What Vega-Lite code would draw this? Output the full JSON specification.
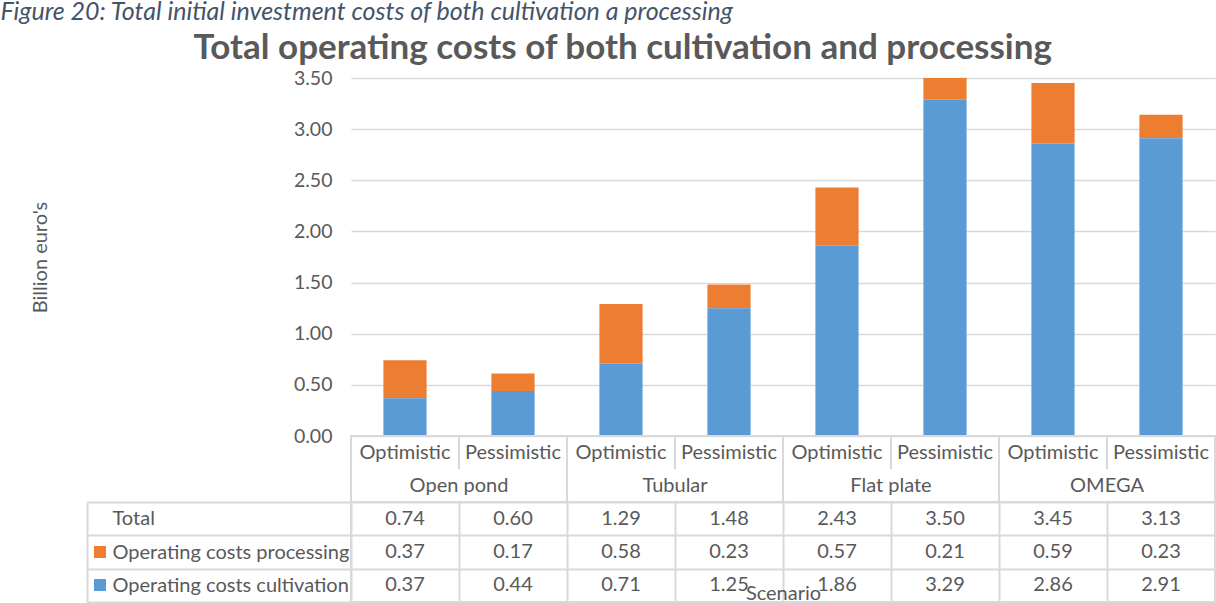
{
  "$schema": "https://vega.github.io/schema/vega-lite/v6.json",
  "padding": 0,
  "background": "white",
  "spacing": 0,
  "bounds": "flush",
  "title": {
    "text": "Figure 20: Total initial investment costs of both cultivation a processing",
    "anchor": "start",
    "frame": "bounds",
    "fontSize": 25,
    "fontStyle": "italic",
    "fontWeight": "normal",
    "color": "#44546A",
    "dx": -30,
    "dy": -10,
    "offset": -4
  },
  "config": {
    "font": "Lato",
    "view": {"stroke": null}
  },
  "resolve": {"scale": {"x": "independent", "y": "independent", "color": "shared"}},
  "datasets": {
    "costs": [
      {"col": "Open pond / Optimistic", "system": "Open pond", "scenario": "Optimistic", "row": "Total", "value": 0.74},
      {"col": "Open pond / Optimistic", "system": "Open pond", "scenario": "Optimistic", "row": "Operating costs processing", "value": 0.37},
      {"col": "Open pond / Optimistic", "system": "Open pond", "scenario": "Optimistic", "row": "Operating costs cultivation", "value": 0.37},
      {"col": "Open pond / Pessimistic", "system": "Open pond", "scenario": "Pessimistic", "row": "Total", "value": 0.60},
      {"col": "Open pond / Pessimistic", "system": "Open pond", "scenario": "Pessimistic", "row": "Operating costs processing", "value": 0.17},
      {"col": "Open pond / Pessimistic", "system": "Open pond", "scenario": "Pessimistic", "row": "Operating costs cultivation", "value": 0.44},
      {"col": "Tubular / Optimistic", "system": "Tubular", "scenario": "Optimistic", "row": "Total", "value": 1.29},
      {"col": "Tubular / Optimistic", "system": "Tubular", "scenario": "Optimistic", "row": "Operating costs processing", "value": 0.58},
      {"col": "Tubular / Optimistic", "system": "Tubular", "scenario": "Optimistic", "row": "Operating costs cultivation", "value": 0.71},
      {"col": "Tubular / Pessimistic", "system": "Tubular", "scenario": "Pessimistic", "row": "Total", "value": 1.48},
      {"col": "Tubular / Pessimistic", "system": "Tubular", "scenario": "Pessimistic", "row": "Operating costs processing", "value": 0.23},
      {"col": "Tubular / Pessimistic", "system": "Tubular", "scenario": "Pessimistic", "row": "Operating costs cultivation", "value": 1.25},
      {"col": "Flat plate / Optimistic", "system": "Flat plate", "scenario": "Optimistic", "row": "Total", "value": 2.43},
      {"col": "Flat plate / Optimistic", "system": "Flat plate", "scenario": "Optimistic", "row": "Operating costs processing", "value": 0.57},
      {"col": "Flat plate / Optimistic", "system": "Flat plate", "scenario": "Optimistic", "row": "Operating costs cultivation", "value": 1.86},
      {"col": "Flat plate / Pessimistic", "system": "Flat plate", "scenario": "Pessimistic", "row": "Total", "value": 3.50},
      {"col": "Flat plate / Pessimistic", "system": "Flat plate", "scenario": "Pessimistic", "row": "Operating costs processing", "value": 0.21},
      {"col": "Flat plate / Pessimistic", "system": "Flat plate", "scenario": "Pessimistic", "row": "Operating costs cultivation", "value": 3.29},
      {"col": "OMEGA / Optimistic", "system": "OMEGA", "scenario": "Optimistic", "row": "Total", "value": 3.45},
      {"col": "OMEGA / Optimistic", "system": "OMEGA", "scenario": "Optimistic", "row": "Operating costs processing", "value": 0.59},
      {"col": "OMEGA / Optimistic", "system": "OMEGA", "scenario": "Optimistic", "row": "Operating costs cultivation", "value": 2.86},
      {"col": "OMEGA / Pessimistic", "system": "OMEGA", "scenario": "Pessimistic", "row": "Total", "value": 3.13},
      {"col": "OMEGA / Pessimistic", "system": "OMEGA", "scenario": "Pessimistic", "row": "Operating costs processing", "value": 0.23},
      {"col": "OMEGA / Pessimistic", "system": "OMEGA", "scenario": "Pessimistic", "row": "Operating costs cultivation", "value": 2.91}
    ]
  },
  "vconcat": [
    {
      "title": {
        "text": "Total operating costs of both cultivation and processing",
        "anchor": "middle",
        "frame": "bounds",
        "fontSize": 35,
        "fontWeight": "bold",
        "color": "#595959",
        "offset": 2
      },
      "width": 864,
      "height": 358,
      "data": {"name": "costs"},
      "transform": [{"filter": "datum.row !== 'Total'"}],
      "mark": {"type": "bar"},
      "encoding": {
        "x": {
          "field": "col", "type": "nominal", "sort": null,
          "scale": {"paddingInner": 0.6, "paddingOuter": 0.3},
          "axis": null
        },
        "y": {
          "field": "value", "type": "quantitative", "stack": "zero",
          "scale": {"domain": [0, 3.5], "nice": false},
          "axis": {
            "values": [0, 0.5, 1, 1.5, 2, 2.5, 3, 3.5],
            "format": ".2f",
            "title": "Billion euro's",
            "grid": true, "gridColor": "#D9D9D9", "gridWidth": 1.5,
            "domain": false, "ticks": false,
            "labelPadding": 19, "labelFontSize": 19.5, "labelColor": "#595959",
            "titleFontSize": 20, "titleFontWeight": "normal", "titleColor": "#595959",
            "titlePadding": 243
          }
        },
        "color": {
          "field": "row", "type": "nominal",
          "scale": {
            "domain": ["Operating costs processing", "Operating costs cultivation"],
            "range": ["#ED7D31", "#5B9BD5"]
          },
          "legend": {
            "orient": "none", "legendX": -257, "legendY": 468,
            "title": null, "symbolType": "square", "symbolSize": 144,
            "symbolStrokeWidth": 0, "labelExpr": "''", "labelFontSize": 1,
            "rowPadding": 21, "padding": 0
          }
        },
        "order": {"field": "row", "type": "nominal", "sort": "ascending"}
      }
    },
    {
      "width": 864,
      "height": 66,
      "view": {"stroke": "#D9D9D9", "strokeWidth": 2},
      "data": {"name": "costs"},
      "transform": [{"filter": "datum.row === 'Total'"}],
      "layer": [
        {
          "mark": {"type": "text", "fontSize": 20, "color": "#595959"},
          "encoding": {
            "x": {"field": "col", "type": "nominal", "sort": null, "scale": {"paddingInner": 0, "paddingOuter": 0}, "axis": null},
            "y": {"datum": 0.5, "type": "quantitative", "scale": {"domain": [0, 2], "reverse": true}, "axis": null},
            "text": {"field": "scenario"}
          }
        },
        {
          "transform": [{"filter": "datum.scenario === 'Pessimistic'"}],
          "mark": {"type": "text", "fontSize": 20, "color": "#595959"},
          "encoding": {
            "x": {"field": "col", "type": "nominal", "sort": null, "bandPosition": 0},
            "y": {"datum": 1.5, "type": "quantitative"},
            "text": {"field": "system"}
          }
        },
        {
          "transform": [{"filter": "datum.scenario === 'Optimistic'"}],
          "mark": {"type": "rule", "color": "#D9D9D9", "strokeWidth": 2},
          "encoding": {
            "x": {"field": "col", "type": "nominal", "sort": null, "bandPosition": 0}
          }
        },
        {
          "transform": [{"filter": "datum.scenario === 'Pessimistic'"}],
          "mark": {"type": "rule", "color": "#D9D9D9", "strokeWidth": 2},
          "encoding": {
            "x": {"field": "col", "type": "nominal", "sort": null, "bandPosition": 0},
            "y": {"datum": 0, "type": "quantitative"},
            "y2": {"datum": 1}
          }
        }
      ]
    },
    {
      "width": 864,
      "height": 100,
      "view": {"stroke": "#D9D9D9", "strokeWidth": 2},
      "data": {"name": "costs"},
      "mark": {"type": "text", "fontSize": 20, "color": "#595959"},
      "encoding": {
        "x": {
          "field": "col", "type": "nominal", "sort": null,
          "scale": {"paddingInner": 0, "paddingOuter": 0},
          "axis": {
            "orient": "bottom", "grid": true, "gridColor": "#D9D9D9", "gridWidth": 2,
            "tickBand": "extent", "labels": false, "ticks": false, "domain": false,
            "title": "Scenario", "titleY": -3, "titleBaseline": "alphabetic",
            "titleFontSize": 20, "titleFontWeight": "normal", "titleColor": "#595959"
          }
        },
        "y": {
          "field": "row", "type": "nominal",
          "sort": ["Total", "Operating costs processing", "Operating costs cultivation"],
          "scale": {"paddingInner": 0, "paddingOuter": 0},
          "axis": {
            "orient": "left", "offset": 264, "title": null,
            "domain": true, "domainColor": "#D9D9D9", "domainWidth": 2,
            "ticks": true, "tickSize": -264, "tickColor": "#D9D9D9", "tickWidth": 2,
            "tickBand": "extent",
            "grid": true, "gridColor": "#D9D9D9", "gridWidth": 2,
            "labelAlign": "left", "labelPadding": 239, "labelBaseline": "middle",
            "labelLimit": 0,
            "labelFontSize": 20, "labelColor": "#595959"
          }
        },
        "text": {"field": "value", "type": "quantitative", "format": ".2f"}
      }
    }
  ]
}
